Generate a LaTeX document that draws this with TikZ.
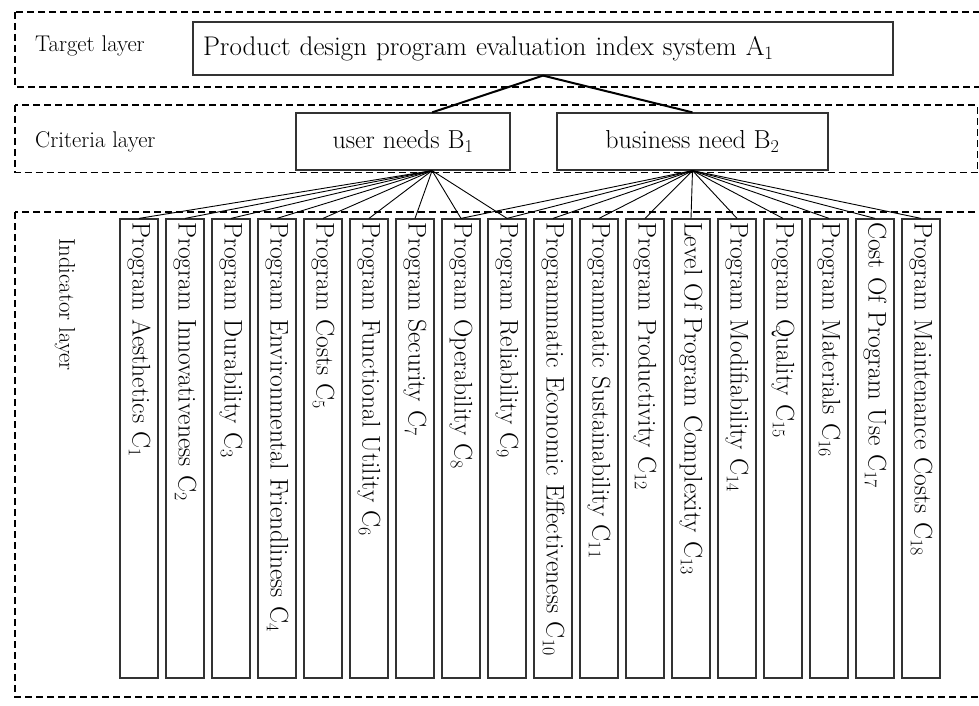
\documentclass[tikz,border=0pt]{standalone}
\usetikzlibrary{positioning}

\begin{document}
\begin{tikzpicture}[x=1pt, y=-1pt,
  layer/.style={draw, line width=1.4pt, dash pattern=on 7pt off 4pt},
  layerlabel/.style={anchor=west, inner sep=0pt, font=\fontsize{22.7}{27}\selectfont},
  goal/.style={draw=black!80, line width=1.2pt, minimum width=700pt,
    minimum height=53pt, text width=680pt, align=left,
    font=\fontsize{27}{32}\selectfont},
  criterion/.style={draw=black!80, line width=1.2pt, minimum height=57pt,
    font=\fontsize{26}{31}\selectfont},
  indicator/.style={draw=black!80, line width=1.2pt, rotate=-90,
    minimum width=459pt, minimum height=38pt, text width=453pt,
    align=left, inner sep=3pt, font=\fontsize{25.5}{30}\selectfont},
  link/.style={line width=2pt},
  sublink/.style={line width=0.9pt}
]
  \useasboundingbox (0,0) rectangle (979,706);

  % Layer frames
  \draw[layer] (15,12) rectangle (1000,87);
  \draw[layer] (15,105) rectangle (977.5,172.5);
  \draw[layer] (15,212) rectangle (1000,697);

  % Layer labels
  \node[layerlabel] (LT) at (35,46) {Target layer};
  \node[layerlabel] (LC) at (35,142) {Criteria layer};
  \node[layerlabel, rotate=-90] (LI) at (65,238) {Indicator layer};

  % Target
  \node[goal] (A) at (543,48.5)
    {Product design program evaluation index system A\textsubscript{1}};

  % Criteria
  \node[criterion, minimum width=214pt] (B1) at (403,141.5) {user needs B\textsubscript{1}};
  \node[criterion, minimum width=271pt] (B2) at (692.5,141.5) {business need B\textsubscript{2}};

  % Indicators
  \foreach \i/\name in {1/Program Aesthetics, 2/Program Innovativeness,
      3/Program Durability, 4/Program Environmental Friendliness,
      5/Program Costs, 6/Program Functional Utility, 7/Program Security,
      8/Program Operability, 9/Program Reliability,
      10/Programmatic Economic Effectiveness, 11/Programmatic Sustainability,
      12/Program Productivity, 13/Level Of Program Complexity,
      14/Program Modifiability, 15/Program Quality, 16/Program Materials,
      17/Cost Of Program Use, 18/Program Maintenance Costs} {
    \node[indicator] (C\i) at ({139+46*(\i-1)},448.5) {\name\ C\textsubscript{\i}};
  }

  % Connections
  \draw[link] (A.south) -- (B1.45);
  \draw[link] (A.south) -- (B2.north);
  \foreach \i in {1,...,9} {
    \draw[sublink] (B1.-45) -- (C\i.west);
  }
  \foreach \i in {8,...,18} {
    \draw[sublink] (B2.south) -- (C\i.west);
  }
\end{tikzpicture}
\end{document}
